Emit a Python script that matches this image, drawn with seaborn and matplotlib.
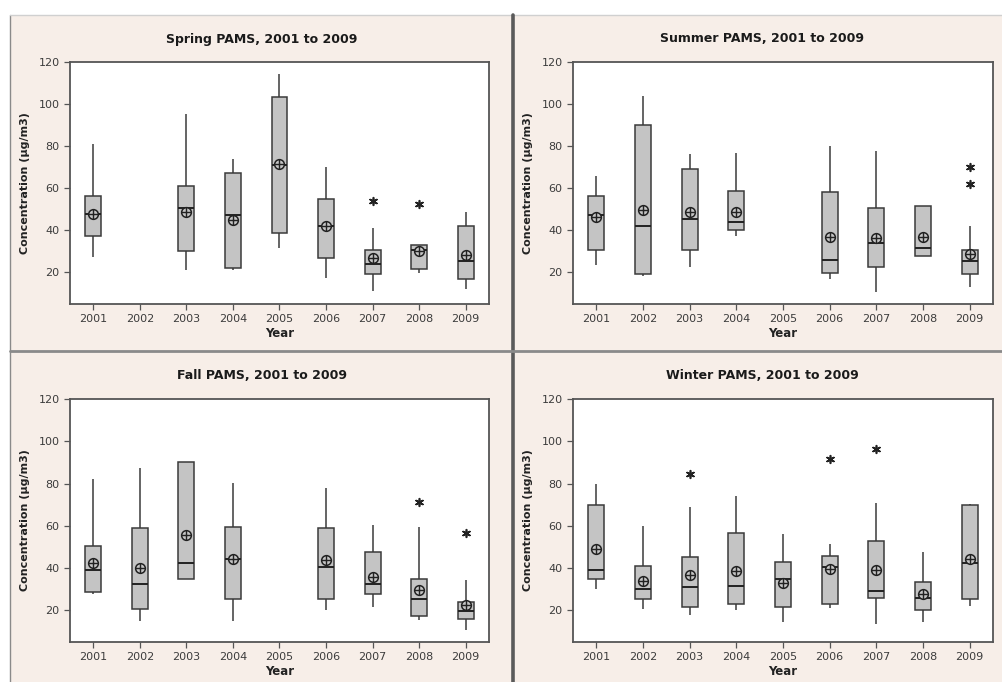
import numpy as np
import pandas as pd
import matplotlib
matplotlib.use("Agg")
import matplotlib.pyplot as plt
import seaborn as sns
from matplotlib.patches import Rectangle
from matplotlib.lines import Line2D

sns.set_style("white")
plt.rcParams['font.family'] = ['DejaVu Sans']

years = ["2001", "2002", "2003", "2004", "2005", "2006", "2007", "2008", "2009"]

# ---- Spring ----
spring_lo   = [27.1, None, 21.0, 21.0, 31.5, 17.3, 11.3, 19.7, 12.1]
spring_q1   = [37.1, None, 30.0, 22.0, 38.6, 26.8, 19.4, 21.6, 16.8]
spring_med  = [47.8, None, 50.8, 47.3, 71.0, 42.1, 24.1, 30.7, 25.2]
spring_q3   = [56.2, None, 61.1, 67.4, 103.4, 54.9, 30.7, 33.1, 42.1]
spring_hi   = [80.8, None, 95.2, 74.0, 114.2, 70.2, 41.3, 33.1, 48.9]
spring_mean = [47.8, None, 48.9, 45.1, 71.5, 42.1, 26.8, 30.4, 28.4]
spring_out_years = ["2007", "2008"]
spring_out_vals  = [54.1, 52.5]

# ---- Summer ----
summer_lo   = [23.6, 18.4, 22.8, 37.1, None, 17.0, 10.5, 27.9, 13.0]
summer_q1   = [30.7, 19.2, 30.7, 40.2, None, 19.7, 22.8, 27.9, 19.1]
summer_med  = [47.3, 42.1, 45.4, 44.2, None, 26.0, 34.2, 31.4, 25.2]
summer_q3   = [56.2, 90.2, 69.0, 58.7, None, 58.2, 50.8, 51.8, 30.7]
summer_hi   = [66.0, 103.7, 76.1, 76.6, None, 80.0, 77.7, 51.8, 42.1]
summer_mean = [46.2, 49.7, 48.6, 48.9, None, 36.7, 36.3, 36.7, 28.8]
summer_out_years = ["2009", "2009"]
summer_out_vals  = [70.2, 62.2]

# ---- Fall ----
fall_lo   = [27.9, 14.9, 35.0, 14.9, None, 20.0, 21.6, 15.6, 10.5]
fall_q1   = [28.7, 20.8, 35.0, 25.5, None, 25.5, 27.9, 17.3, 16.0]
fall_med  = [39.0, 32.3, 42.2, 44.2, None, 40.6, 32.3, 25.5, 19.7]
fall_q3   = [50.4, 58.8, 90.1, 59.6, None, 59.1, 47.4, 35.0, 24.0]
fall_hi   = [82.0, 87.2, 90.1, 80.1, None, 78.0, 60.3, 59.6, 34.2]
fall_mean = [42.5, 39.8, 55.6, 44.5, None, 43.7, 35.8, 29.8, 22.4]
fall_out_years = ["2008", "2009"]
fall_out_vals  = [71.4, 56.7]

# ---- Winter ----
winter_lo   = [30.3, 20.8, 17.6, 20.3, 14.4, 21.1, 13.4, 14.4, 22.1]
winter_q1   = [34.6, 25.5, 21.6, 22.8, 21.6, 23.2, 26.0, 20.3, 25.5]
winter_med  = [39.0, 30.0, 31.1, 31.6, 34.6, 40.6, 29.0, 25.9, 42.5]
winter_q3   = [69.8, 41.0, 45.0, 56.7, 42.9, 45.6, 52.8, 33.4, 69.8]
winter_hi   = [79.7, 60.0, 68.7, 74.3, 55.9, 51.6, 70.6, 47.4, 70.2]
winter_mean = [48.8, 33.8, 36.9, 38.7, 32.7, 39.5, 39.0, 27.9, 44.5]
winter_out_years = ["2003", "2006", "2007"]
winter_out_vals  = [84.6, 91.8, 96.3]

panels = [
    ("Spring PAMS, 2001 to 2009", spring_lo, spring_q1, spring_med, spring_q3, spring_hi,
     spring_mean, spring_out_years, spring_out_vals),
    ("Summer PAMS, 2001 to 2009", summer_lo, summer_q1, summer_med, summer_q3, summer_hi,
     summer_mean, summer_out_years, summer_out_vals),
    ("Fall PAMS, 2001 to 2009", fall_lo, fall_q1, fall_med, fall_q3, fall_hi,
     fall_mean, fall_out_years, fall_out_vals),
    ("Winter PAMS, 2001 to 2009", winter_lo, winter_q1, winter_med, winter_q3, winter_hi,
     winter_mean, winter_out_years, winter_out_vals),
]

W, H = 1003, 682
fig = plt.figure(figsize=(W / 100, H / 100), dpi=100, facecolor="white")

bg = "#f7eee8"
fig.patches.append(Rectangle((10 / W, 0), 1 - 10 / W, 1 - 15 / H, transform=fig.transFigure,
                             facecolor=bg, edgecolor="none", zorder=-10))
# panel borders
fig.lines.append(Line2D([10 / W, 10 / W], [0, 1 - 15 / H], transform=fig.transFigure,
                        color="#8a8a8a", lw=1.0, zorder=-5))
fig.lines.append(Line2D([10 / W, 1], [1 - 15 / H, 1 - 15 / H], transform=fig.transFigure,
                        color="#d0d0d0", lw=1.0, zorder=-5))
fig.lines.append(Line2D([513 / W, 513 / W], [0, 1 - 15 / H], transform=fig.transFigure,
                        color="#5a5a5a", lw=2.6, zorder=-5))
fig.lines.append(Line2D([10 / W, 1], [1 - 351 / H, 1 - 351 / H], transform=fig.transFigure,
                        color="#8a8a8a", lw=2.0, zorder=-5))

# axes boxes in pixels: (left, top, right, bottom)
boxes = [(70, 62, 489, 304), (573, 62, 993, 304), (70, 399, 489, 642), (573, 399, 993, 642)]
panel_centers = [262, 762, 262, 762]
title_y = [39, 39, 376, 376]

box_fill = "#c4c4c4"
edge = "#3a3a3a"

for (title, lo, q1, med, q3, hi, mean, oy, ov), (l, t, r, b), pc, ty in zip(
        panels, boxes, panel_centers, title_y):
    ax = fig.add_axes([l / W, 1 - b / H, (r - l) / W, (b - t) / H])
    ax.set_zorder(1)
    ax.set_facecolor("white")

    rows = []
    for yr, a, c, d, e, f in zip(years, lo, q1, med, q3, hi):
        if a is None:
            continue
        for v in (a, c, d, e, f):
            rows.append((yr, v))
    df = pd.DataFrame(rows, columns=["Year", "value"])

    sns.boxplot(data=df, x="Year", y="value", order=years, whis=(0, 100),
                width=0.34, color=box_fill, linecolor=edge, linewidth=1.1,
                showfliers=False, capprops={"visible": False},
                medianprops={"color": "#222222", "linewidth": 1.4},
                saturation=1, ax=ax)

    mdf = pd.DataFrame([(yr, m) for yr, m in zip(years, mean) if m is not None],
                       columns=["Year", "value"])
    sns.stripplot(data=mdf, x="Year", y="value", order=years, jitter=False,
                  marker="o", color=box_fill, edgecolor="#222222", linewidth=1.1,
                  size=7, zorder=4, ax=ax)
    sns.stripplot(data=mdf, x="Year", y="value", order=years, jitter=False,
                  marker="+", color="#222222", linewidth=1.0, size=7, zorder=5, ax=ax)

    odf = pd.DataFrame({"Year": oy, "value": ov})
    sns.stripplot(data=odf, x="Year", y="value", order=years, jitter=False,
                  marker=(6, 2, 0), color="#222222", linewidth=1.2, size=5.5,
                  zorder=5, ax=ax)

    ax.set_xlim(-0.5, 8.5)
    ax.set_ylim(5, 120)
    ax.set_yticks([20, 40, 60, 80, 100, 120])
    ax.tick_params(axis="both", which="both", direction="out", length=4, width=0.9,
                   colors="#555555", labelsize=8, labelcolor="#3c3c3c",
                   left=True, bottom=True, top=False, right=False)
    for s in ax.spines.values():
        s.set_visible(True)
        s.set_color("#555555")
        s.set_linewidth(1.3)
    ax.set_xlabel("Year", fontsize=8.5, fontweight="bold", color="#222222", labelpad=2)
    ax.set_ylabel("Concentration (µg/m3)", fontsize=8, fontweight="bold",
                  color="#222222", labelpad=6)
    fig.text(pc / W, 1 - ty / H, title, ha="center", va="center",
             fontsize=9, fontweight="bold", color="#1a1a1a")

fig.savefig("out.png", dpi=100, facecolor=fig.get_facecolor())
